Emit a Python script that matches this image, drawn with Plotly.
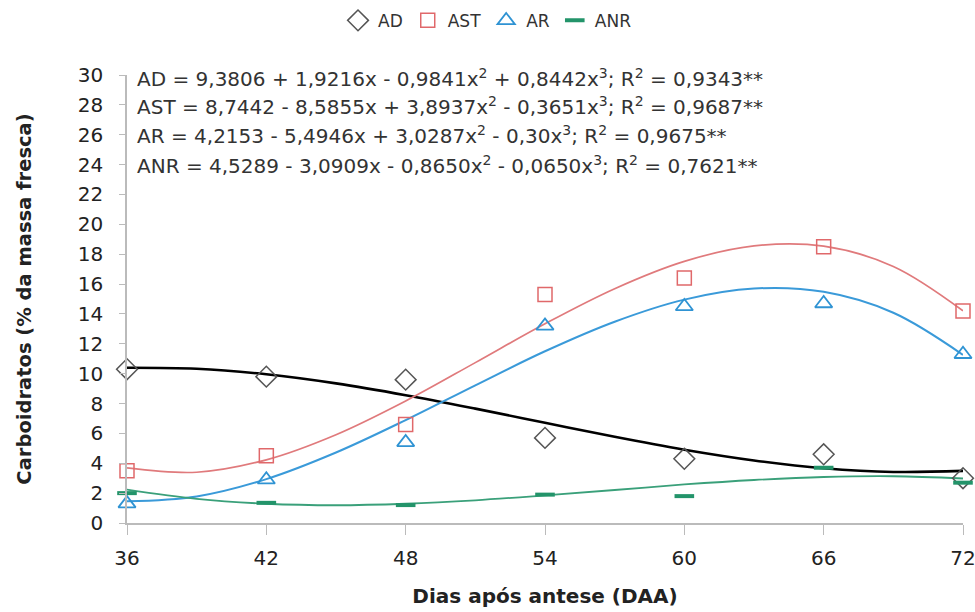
import plotly.graph_objects as go

# --- data ---
days = [36, 42, 48, 54, 60, 66, 72]
ad = [10.3, 9.8, 9.6, 5.7, 4.3, 4.6, 3.0]
ast = [3.5, 4.5, 6.6, 15.3, 16.4, 18.5, 14.2]
ar = [1.3, 2.9, 5.4, 13.2, 14.5, 14.7, 11.3]
anr = [2.0, 1.35, 1.2, 1.9, 1.8, 3.7, 2.7]

# fitted curves (read every 3 days)
curve_days = [36, 39, 42, 45, 48, 51, 54, 57, 60, 63, 66, 69, 72]
ad_fit = [10.40, 10.33, 9.96, 9.35, 8.56, 7.66, 6.71, 5.77, 4.91, 4.19, 3.67, 3.42, 3.49]
ast_fit = [3.69, 3.40, 4.23, 5.91, 8.17, 10.74, 13.34, 15.69, 17.52, 18.56, 18.54, 17.18, 14.21]
ar_fit = [1.45, 1.78, 2.94, 4.72, 6.89, 9.22, 11.50, 13.48, 14.96, 15.70, 15.48, 14.08, 11.26]
anr_fit = [2.24, 1.62, 1.29, 1.19, 1.29, 1.52, 1.85, 2.21, 2.58, 2.88, 3.08, 3.13, 2.98]

equations = [
    "AD = 9,3806 + 1,9216x - 0,9841x<sup>2</sup> + 0,8442x<sup>3</sup>; R<sup>2</sup> = 0,9343**",
    "AST = 8,7442 - 8,5855x + 3,8937x<sup>2</sup> - 0,3651x<sup>3</sup>; R<sup>2</sup> = 0,9687**",
    "AR = 4,2153 - 5,4946x + 3,0287x<sup>2</sup> - 0,30x<sup>3</sup>; R<sup>2</sup> = 0,9675**",
    "ANR = 4,5289 - 3,0909x - 0,8650x<sup>2</sup> - 0,0650x<sup>3</sup>; R<sup>2</sup> = 0,7621**",
]
eq_y = [29.8, 27.9, 26.0, 24.0]

C_AD_M, C_AD_L = "#555555", "#000000"
C_AST = "#e0686a"
C_AR = "#2f93d3"
C_ANR = "#23946a"
FONT = "DejaVu Sans"

fig = go.Figure()

# fitted lines
for yv, col, w in [(ad_fit, C_AD_L, 2.6), (ast_fit, "#e07a7c", 1.7), (ar_fit, "#3a9ad9", 2.0), (anr_fit, "#3aa07a", 1.8)]:
    fig.add_trace(go.Scatter(x=curve_days, y=yv, mode="lines", line=dict(color=col, width=w, shape="spline"),
                             showlegend=False, hoverinfo="skip", cliponaxis=False))

# markers
fig.add_trace(go.Scatter(x=days, y=ad, mode="markers", name="AD",
                         marker=dict(symbol="diamond-open", size=16, color=C_AD_M, line=dict(width=1.5)),
                         cliponaxis=False))
fig.add_trace(go.Scatter(x=days, y=ast, mode="markers", name="AST",
                         marker=dict(symbol="square-open", size=14, color=C_AST, line=dict(width=1.5)),
                         cliponaxis=False))
fig.add_trace(go.Scatter(x=days, y=ar, mode="markers", name="AR",
                         marker=dict(symbol="triangle-up-open", size=15, color=C_AR, line=dict(width=1.8)),
                         cliponaxis=False))
fig.add_trace(go.Scatter(x=days, y=anr, mode="markers", name="ANR",
                         marker=dict(symbol="line-ew", size=14, color=C_ANR, line=dict(width=4, color=C_ANR)),
                         cliponaxis=False))

for txt, yy in zip(equations, eq_y):
    fig.add_annotation(x=36, y=yy, xref="x", yref="y", text=txt, showarrow=False,
                       xanchor="left", yanchor="middle", xshift=8,
                       font=dict(family=FONT, size=20, color="#333333"))

fig.update_layout(
    width=975, height=612,
    margin=dict(l=127, r=12, t=75, b=89),
    paper_bgcolor="white", plot_bgcolor="white",
    font=dict(family=FONT, color="#222222"),
    legend=dict(orientation="h", x=0.5, xref="container", xanchor="center", y=0.966, yref="container",
                yanchor="middle", font=dict(size=17, color="#333333"), itemwidth=30, tracegroupgap=0),
    showlegend=True,
)
fig.update_xaxes(range=[36, 72], tickvals=days, ticks="outside", ticklen=10, tickcolor="#bbbbbb",
                 showline=True, linecolor="#bbbbbb", linewidth=1.5, showgrid=False, zeroline=False,
                 tickfont=dict(size=20, color="#222222"), ticklabelstandoff=6, ticklabeloverflow="allow",
                 automargin=False,
                 title=dict(text="<b>Dias após antese (DAA)</b>", font=dict(size=20, color="#222222"), standoff=20))
fig.update_yaxes(range=[0, 30], dtick=2, ticks="outside", ticklen=6, tickcolor="#bbbbbb",
                 showline=True, linecolor="#bbbbbb", linewidth=1.5, showgrid=False, zeroline=False,
                 tickfont=dict(size=20, color="#222222"), ticklabelstandoff=12, automargin=False,
                 title=dict(text="<b>Carboidratos (% da massa fresca)</b>", font=dict(size=19.5, color="#222222"), standoff=41))

fig.write_html("out.html", config={"displayModeBar": False},
               post_script="document.body.style.margin='0';document.body.style.overflow='hidden';")
